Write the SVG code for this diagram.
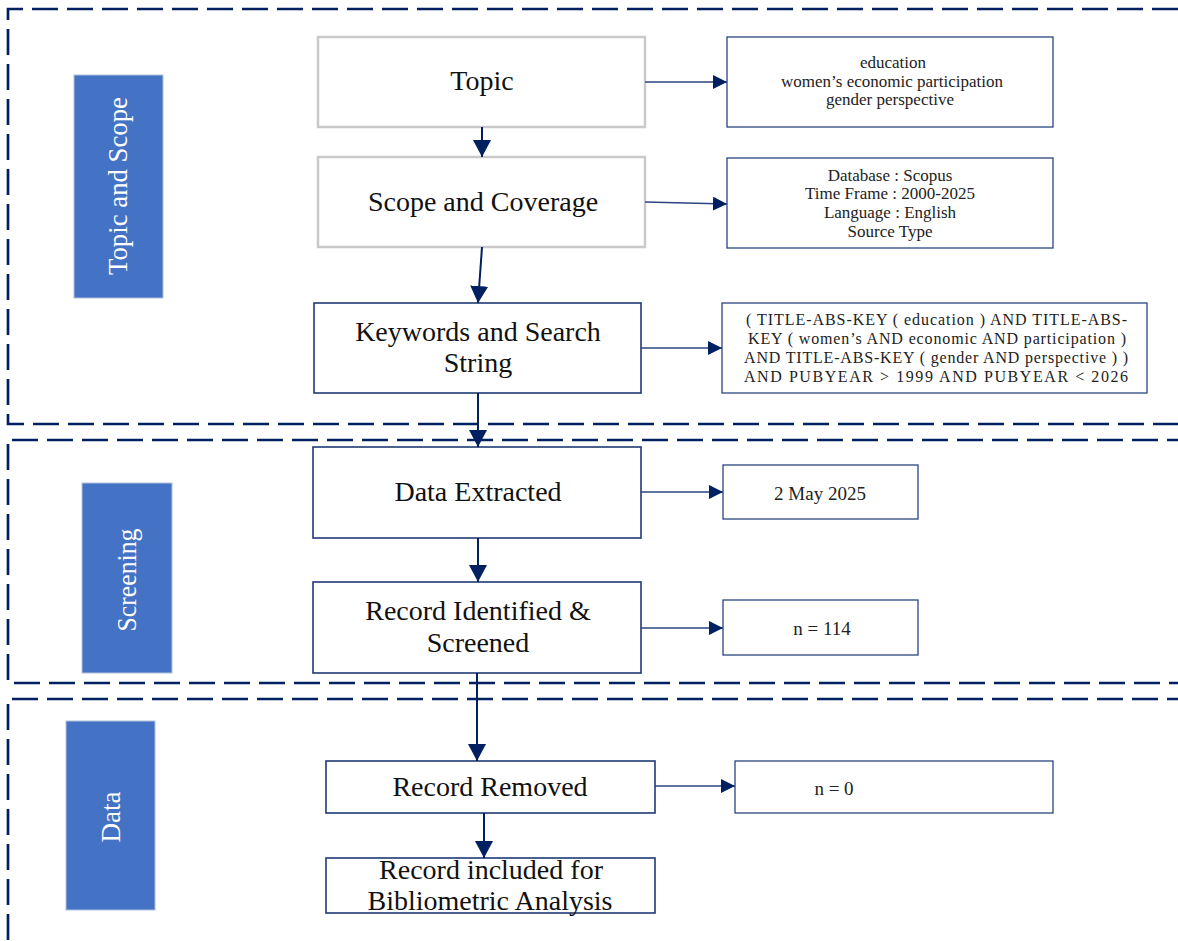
<svg xmlns="http://www.w3.org/2000/svg" width="1178" height="941" viewBox="0 0 1178 941">
  <style>
    .sec { fill: none; stroke: #002060; stroke-width: 2.7; stroke-dasharray: 26 9; }
    .lbl { fill: #4472C4; stroke: #B4C2DC; stroke-width: 1; }
    .lbltxt { font-family: "Liberation Serif", "Times New Roman", serif; font-size: 27px; fill: #FFFFFF; text-anchor: middle; }
    .gbox { fill: #FFFFFF; stroke: #C9C9C9; stroke-width: 2.5; }
    .nbox { fill: #FFFFFF; stroke: #1F3A73; stroke-width: 1.6; }
    .rbox { fill: #FFFFFF; stroke: #2A4580; stroke-width: 1.3; }
    .mt { font-family: "Liberation Serif", "Times New Roman", serif; font-size: 28px; fill: #111111; text-anchor: middle; }
    .st { font-family: "Liberation Serif", "Times New Roman", serif; font-size: 17px; fill: #222222; text-anchor: middle; }
    .qt { font-family: "Liberation Serif", "Times New Roman", serif; font-size: 16px; fill: #222222; }
    .nt { font-family: "Liberation Serif", "Times New Roman", serif; font-size: 19px; fill: #222222; text-anchor: middle; }
    .v { fill: none; stroke: #002060; stroke-width: 2; }
    .h { fill: none; stroke: #2A4580; stroke-width: 1.3; }
  </style>
  <defs>
    <marker id="ah" markerWidth="17" markerHeight="18" refX="17" refY="9" orient="auto" markerUnits="userSpaceOnUse" viewBox="0 0 17 18">
      <path d="M0 0 L17 9 L0 18 Z" fill="#002060"/>
    </marker>
    <marker id="ahs" markerWidth="14" markerHeight="14" refX="14" refY="7" orient="auto" markerUnits="userSpaceOnUse" viewBox="0 0 14 14">
      <path d="M0 0 L14 7 L0 14 Z" fill="#002060"/>
    </marker>
  </defs>
  <rect width="1178" height="941" fill="#FFFFFF"/>

  <g id="sections">
    <path class="sec" d="M1178 9 L8 9 L8 424 L1178 424"/>
    <path class="sec" d="M12 440 L1178 440"/>
    <path class="sec" d="M8 444 L8 683 L1178 683"/>
    <path class="sec" d="M12 699 L1178 699"/>
    <path class="sec" d="M8 704 L8 941"/>
  </g>

  <g id="label-topic-scope">
    <rect class="lbl" x="74" y="75" width="89" height="223"/>
    <text class="lbltxt" transform="translate(127 186) rotate(-90)" textLength="178" lengthAdjust="spacingAndGlyphs">Topic and Scope</text>
  </g>
  <g id="label-screening">
    <rect class="lbl" x="82" y="483" width="90" height="190"/>
    <text class="lbltxt" transform="translate(136 580) rotate(-90)" textLength="103" lengthAdjust="spacingAndGlyphs">Screening</text>
  </g>
  <g id="label-data">
    <rect class="lbl" x="66" y="721" width="89" height="189"/>
    <text class="lbltxt" transform="translate(120 817) rotate(-90)" textLength="51" lengthAdjust="spacingAndGlyphs">Data</text>
  </g>

  <g id="topic">
    <rect class="gbox" x="318" y="37" width="327" height="90"/>
    <text class="mt" x="482" y="90">Topic</text>
  </g>
  <g id="scope">
    <rect class="gbox" x="318" y="157" width="327" height="90"/>
    <text class="mt" x="483" y="211">Scope and Coverage</text>
  </g>
  <g id="keywords">
    <rect class="nbox" x="314" y="303" width="327" height="90"/>
    <text class="mt" x="478" y="341">Keywords and Search</text>
    <text class="mt" x="478" y="372">String</text>
  </g>
  <g id="data-extracted">
    <rect class="nbox" x="313" y="447" width="328" height="91"/>
    <text class="mt" x="478" y="501">Data Extracted</text>
  </g>
  <g id="record-identified">
    <rect class="nbox" x="313" y="582" width="328" height="91"/>
    <text class="mt" x="478" y="620">Record Identified &amp;</text>
    <text class="mt" x="478" y="652">Screened</text>
  </g>
  <g id="record-removed">
    <rect class="nbox" x="326" y="761" width="329" height="52"/>
    <text class="mt" x="490" y="796">Record Removed</text>
  </g>
  <g id="record-included">
    <rect class="nbox" x="326" y="858" width="329" height="55"/>
    <text class="mt" x="491" y="879">Record included for</text>
    <text class="mt" x="490" y="910">Bibliometric Analysis</text>
  </g>

  <g id="topic-detail">
    <rect class="rbox" x="727" y="37" width="326" height="90"/>
    <text class="st" x="893" y="68">education</text>
    <text class="st" x="892" y="87">women’s economic participation</text>
    <text class="st" x="890" y="105">gender  perspective</text>
  </g>
  <g id="scope-detail">
    <rect class="rbox" x="727" y="158" width="326" height="90"/>
    <text class="st" x="890" y="181">Database : Scopus</text>
    <text class="st" x="890" y="199">Time Frame : 2000-2025</text>
    <text class="st" x="890" y="218">Language : English</text>
    <text class="st" x="890" y="237">Source Type</text>
  </g>
  <g id="search-string">
    <rect class="rbox" x="722" y="303" width="425" height="90"/>
    <text class="qt" x="746" y="325" textLength="381" lengthAdjust="spacing">( TITLE-ABS-KEY ( education )  AND  TITLE-ABS-</text>
    <text class="qt" x="748" y="344" textLength="378" lengthAdjust="spacing">KEY ( women’s  AND economic  AND participation )</text>
    <text class="qt" x="744" y="363" textLength="384" lengthAdjust="spacing">AND  TITLE-ABS-KEY ( gender  AND perspective ) )</text>
    <text class="qt" x="744" y="382" textLength="384" lengthAdjust="spacing">AND  PUBYEAR  &gt;  1999  AND  PUBYEAR  &lt;  2026</text>
  </g>
  <g id="date">
    <rect class="rbox" x="723" y="465" width="195" height="54"/>
    <text class="nt" x="820" y="500">2 May 2025</text>
  </g>
  <g id="n114">
    <rect class="rbox" x="723" y="600" width="195" height="55"/>
    <text class="nt" x="822" y="635">n = 114</text>
  </g>
  <g id="n0">
    <rect class="rbox" x="735" y="761" width="318" height="52"/>
    <text class="nt" x="834" y="795">n = 0</text>
  </g>

  <g id="connectors">
    <path class="v" d="M482 127 L482 157" marker-end="url(#ah)"/>
    <path class="v" d="M482 247 L478 303" marker-end="url(#ah)"/>
    <path class="v" d="M478 393 L478 447" marker-end="url(#ah)"/>
    <path class="v" d="M478 538 L478 582" marker-end="url(#ah)"/>
    <path class="v" d="M477 673 L477 761" marker-end="url(#ah)"/>
    <path class="v" d="M484 813 L484 858" marker-end="url(#ah)"/>
    <path class="h" d="M645 82 L727 82" marker-end="url(#ahs)"/>
    <path class="h" d="M645 202 L727 204" marker-end="url(#ahs)"/>
    <path class="h" d="M641 348 L722 348" marker-end="url(#ahs)"/>
    <path class="h" d="M641 492 L723 492" marker-end="url(#ahs)"/>
    <path class="h" d="M641 628 L723 628" marker-end="url(#ahs)"/>
    <path class="h" d="M655 786 L735 786" marker-end="url(#ahs)"/>
  </g>
</svg>
